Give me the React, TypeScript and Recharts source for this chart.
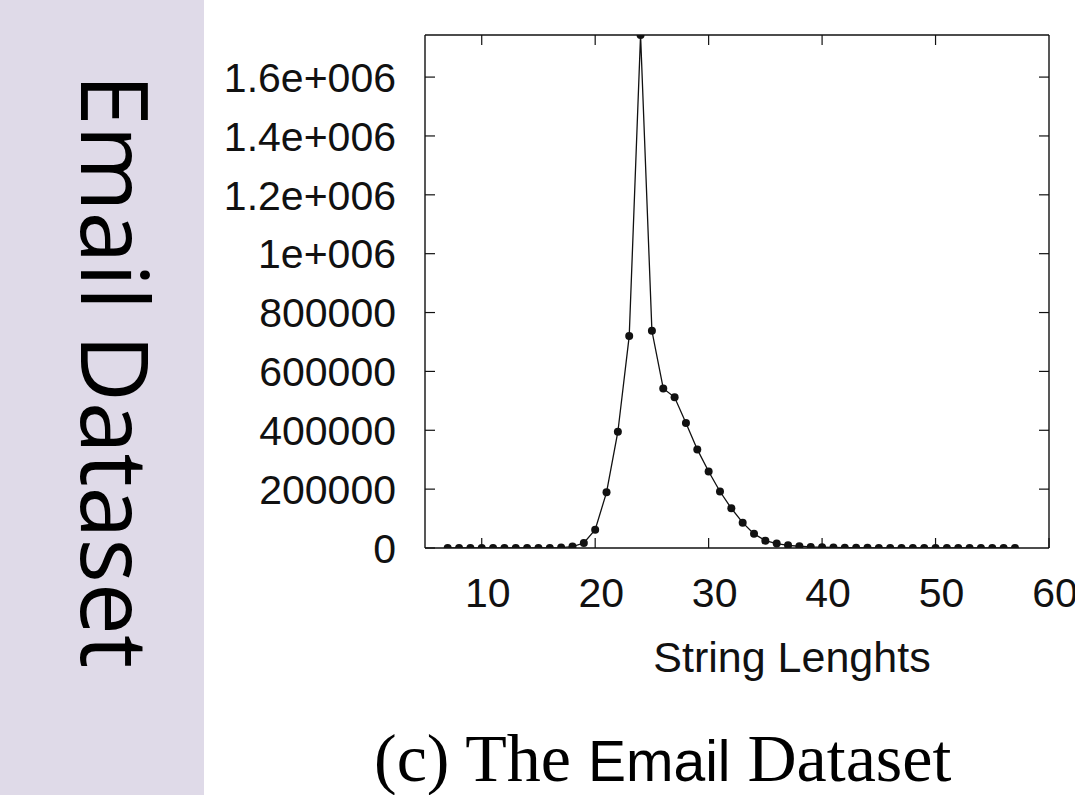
import { Line, LineChart, XAxis, YAxis } from "recharts";

const stringLengths = [
  7, 8, 9, 10, 11, 12, 13, 14, 15, 16, 17, 18, 19, 20, 21, 22, 23, 24, 25, 26, 27, 28, 29, 30, 31, 32,
  33, 34, 35, 36, 37, 38, 39, 40, 41, 42, 43, 44, 45, 46, 47, 48, 49, 50, 51, 52, 53, 54, 55, 56, 57,
];

const counts = [
  0, 0, 0, 0, 0, 0, 0, 0, 100, 300, 1500, 5000, 17000, 62000, 189000, 395000, 720000, 1743000,
  738000, 542000, 512000, 425000, 335000, 260000, 192000, 135000, 86000, 48000, 25000, 15000, 9000,
  6000, 3500, 2500, 1800, 1200, 900, 600, 400, 300, 200, 150, 100, 100, 100, 100, 100, 100, 100, 100, 100,
];

const xTicks = [10, 20, 30, 40, 50, 60];
const yTicks = [0, 200000, 400000, 600000, 800000, 1000000, 1200000, 1400000, 1600000];
const yTickLabels = ["0", "200000", "400000", "600000", "800000", "1e+006", "1.2e+006", "1.4e+006", "1.6e+006"];

const data = stringLengths.map((len, i) => ({ len, count: counts[i] }));

const INK = "#111";
const SANS = "'Liberation Sans', Arial, sans-serif";
const SERIF = "'Liberation Serif', 'Times New Roman', serif";
const TICK_LEN = 10;
const X_GAP = 30;
const Y_GAP = 29;

function BottomTick(props: any) {
  const { x, y, payload } = props;
  const axisY = y - X_GAP;
  return (
    <g>
      <line x1={x} x2={x} y1={axisY} y2={axisY - TICK_LEN} stroke={INK} strokeWidth={1.2} />
      <text x={x + 6} y={y} dy="0.71em" textAnchor="middle" fontSize={41} fontFamily={SANS} fill={INK}>
        {payload.value}
      </text>
    </g>
  );
}

function TopTick(props: any) {
  const { x, y } = props;
  return <line x1={x} x2={x} y1={y} y2={y + TICK_LEN} stroke={INK} strokeWidth={1.2} />;
}

function LeftTick(props: any) {
  const { x, y, payload } = props;
  const axisX = x + Y_GAP;
  const idx = yTicks.indexOf(payload.value);
  return (
    <g>
      <line x1={axisX} x2={axisX + TICK_LEN} y1={y} y2={y} stroke={INK} strokeWidth={1.2} />
      <text x={x} y={y} dy="0.36em" textAnchor="end" fontSize={41} fontFamily={SANS} fill={INK}>
        {yTickLabels[idx]}
      </text>
    </g>
  );
}

function RightTick(props: any) {
  const { x, y } = props;
  return <line x1={x} x2={x - TICK_LEN} y1={y} y2={y} stroke={INK} strokeWidth={1.2} />;
}

export default function App() {
  const yMax = 1743000;
  const axisLine = { stroke: INK, strokeWidth: 1.4 };
  return (
    <div style={{ position: "absolute", left: 0, top: 0, width: 1075, height: 795, background: "#fff" }}>
      <div style={{ position: "absolute", left: 0, top: 0, width: 204, height: 795, background: "#dfdae8" }} />
      <div
        style={{
          position: "absolute",
          left: 116,
          top: 371,
          transform: "translate(-50%, -50%) rotate(90deg)",
          fontFamily: "'Open Sans', sans-serif",
          fontSize: 93,
          lineHeight: 1,
          whiteSpace: "nowrap",
          color: "#000",
        }}
      >
        Email Dataset
      </div>
      <div style={{ position: "absolute", left: 0, top: 0 }}>
        <LineChart width={1075} height={795} data={data} margin={{ top: 34, right: 25, bottom: 107, left: 0 }}>
          <XAxis
            xAxisId="b"
            dataKey="len"
            type="number"
            domain={[5, 60]}
            ticks={xTicks}
            allowDataOverflow
            height={140}
            tickSize={0}
            tickMargin={X_GAP}
            tickLine={false}
            axisLine={axisLine}
            tick={<BottomTick />}
            interval={0}
            label={{
              value: "String Lenghts",
              position: "insideBottom",
              offset: 16,
              dx: 55,
              fontSize: 43,
              fontFamily: SANS,
              fill: INK,
            }}
          />
          <XAxis
            xAxisId="t"
            dataKey="len"
            orientation="top"
            type="number"
            domain={[5, 60]}
            ticks={xTicks.slice(0, 5)}
            allowDataOverflow
            height={1}
            tickSize={0}
            tickMargin={0}
            tickLine={false}
            axisLine={axisLine}
            tick={<TopTick />}
            interval={0}
          />
          <YAxis
            yAxisId="l"
            type="number"
            domain={[0, yMax]}
            ticks={yTicks}
            allowDataOverflow
            width={425}
            tickSize={0}
            tickMargin={Y_GAP}
            tickLine={false}
            axisLine={axisLine}
            tick={<LeftTick />}
            interval={0}
          />
          <YAxis
            yAxisId="r"
            orientation="right"
            type="number"
            domain={[0, yMax]}
            ticks={yTicks.slice(1)}
            allowDataOverflow
            width={1}
            tickSize={0}
            tickMargin={0}
            tickLine={false}
            axisLine={axisLine}
            tick={<RightTick />}
            interval={0}
          />
          {/* invisible copy so the top and right frame axes have a series */}
          <Line
            xAxisId="t"
            yAxisId="r"
            type="linear"
            dataKey="count"
            stroke="none"
            dot={false}
            activeDot={false}
            legendType="none"
            isAnimationActive={false}
          />
          <Line
            xAxisId="b"
            yAxisId="l"
            type="linear"
            dataKey="count"
            stroke={INK}
            strokeWidth={1.3}
            dot={{ r: 4, fill: INK, stroke: "none" }}
            isAnimationActive={false}
          />
        </LineChart>
      </div>
      <svg width={1075} height={795} style={{ position: "absolute", left: 0, top: 0, pointerEvents: "none" }}>
        <text x={374} y={781} fill="#000" style={{ whiteSpace: "pre" }}>
          <tspan fontFamily={SERIF} fontSize={68}>{"(c) The "}</tspan>
          <tspan fontFamily={SANS} fontSize={57}>{"Email"}</tspan>
          <tspan fontFamily={SERIF} fontSize={68}>{" Dataset"}</tspan>
        </text>
      </svg>
    </div>
  );
}
